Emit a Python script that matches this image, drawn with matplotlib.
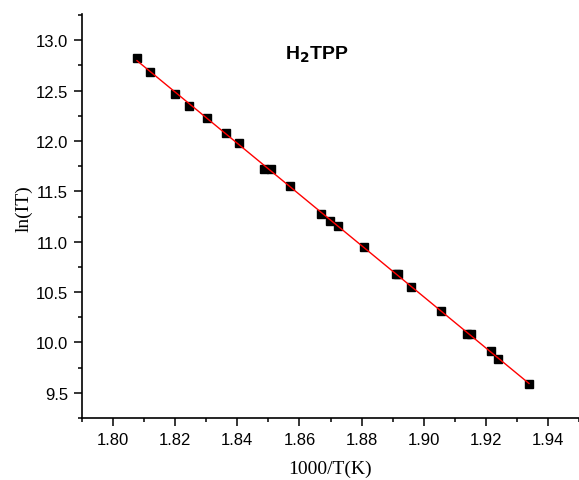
import numpy as np
import matplotlib.pyplot as plt
from matplotlib.ticker import MultipleLocator

# 1000/T (K) and ln(IT)
inv_t = [1.8077, 1.8120, 1.8201, 1.8246, 1.8304, 1.8365, 1.8405, 1.8487, 1.8509,
         1.8571, 1.8669, 1.8699, 1.8724, 1.8808, 1.8910, 1.8917, 1.8960, 1.9057,
         1.9140, 1.9152, 1.9217, 1.9240, 1.9339]
ln_it = [12.82, 12.686, 12.47, 12.343, 12.224, 12.081, 11.979, 11.718, 11.718,
         11.55, 11.279, 11.203, 11.16, 10.945, 10.68, 10.675, 10.555, 10.314,
         10.086, 10.083, 9.914, 9.838, 9.584]

x = np.array(inv_t)
y = np.array(ln_it)

# linear fit
slope, icpt = np.polyfit(x, y, 1)
xf = np.array([x.min(), x.max()])

fig = plt.figure(figsize=(5.79, 4.81), dpi=100)
ax = fig.add_axes([82 / 579, 1 - 419 / 481, 1 - 82 / 579, (419 - 15) / 481])

ax.plot(x, y, 's', color='black', markersize=6, zorder=2)
ax.plot(xf, slope * xf + icpt, color='red', lw=1.0, zorder=3)

ax.set_xlim(1.79, 1.95)
ax.set_ylim(9.25, 13.26)

ax.spines['top'].set_visible(False)
ax.spines['right'].set_visible(False)
for s in ('left', 'bottom'):
    ax.spines[s].set_linewidth(1.2)

ax.xaxis.set_major_locator(MultipleLocator(0.02))
ax.xaxis.set_minor_locator(MultipleLocator(0.01))
ax.yaxis.set_major_locator(MultipleLocator(0.5))
ax.yaxis.set_minor_locator(MultipleLocator(0.25))
ax.xaxis.set_major_formatter(plt.FormatStrFormatter('%.2f'))
ax.yaxis.set_major_formatter(plt.FormatStrFormatter('%.1f'))

ax.tick_params(which='major', direction='out', length=6, width=1.1,
               labelsize=12, pad=4)
ax.tick_params(which='minor', direction='out', length=3, width=1.1)
for lab in ax.get_xticklabels() + ax.get_yticklabels():
    lab.set_family('Liberation Sans')

ax.set_xlabel('1000/T(K)', family='Liberation Serif', fontsize=14)
ax.set_ylabel('ln(IT)', family='Liberation Serif', fontsize=14)
ax.xaxis.set_label_coords(0.5, -0.104)
ax.yaxis.set_label_coords(-0.10, 0.52)

ax.text(1.8657, 12.82, r'H$_\mathbf{2}$TPP', fontsize=14, fontweight='bold',
        family='Liberation Sans', ha='center', va='baseline')

fig.savefig('out.png', dpi=100)
